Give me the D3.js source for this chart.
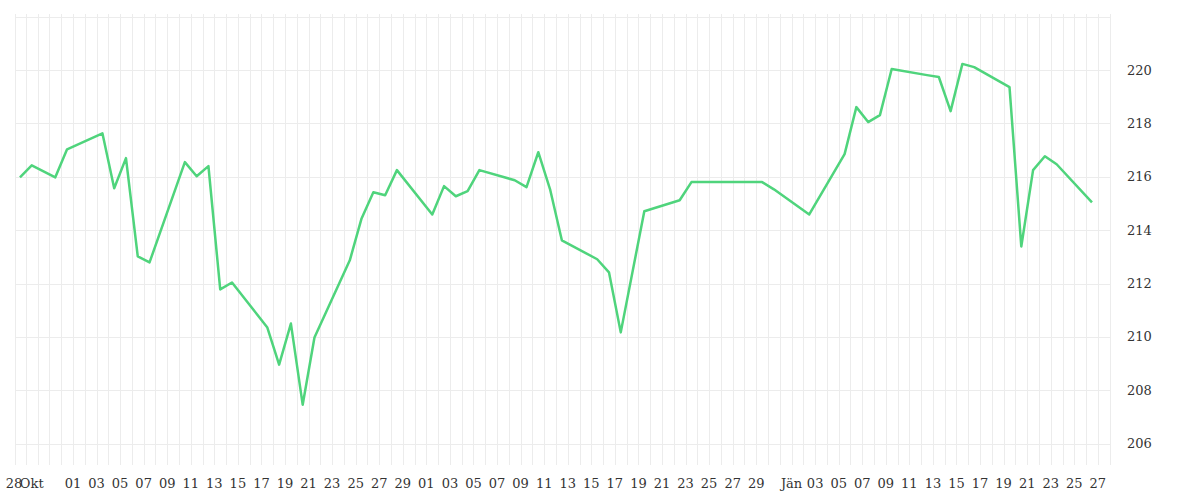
<!DOCTYPE html>
<html><head><meta charset="utf-8">
<script src="https://cdn.jsdelivr.net/npm/d3@7"></script>
<style>
  body { margin: 0; background: #fff; }
  text { font-family: "DejaVu Serif", "Liberation Serif", serif; }
</style></head>
<body><div id="chart"></div>
<script>
// Price line, Oct 28 2019 – Jan 27 2020 (trading days)
const dates = [
  '2019-10-28','2019-10-29','2019-10-31','2019-11-01','2019-11-04','2019-11-05','2019-11-06','2019-11-07','2019-11-08',
  '2019-11-11','2019-11-12','2019-11-13','2019-11-14','2019-11-15','2019-11-18','2019-11-19','2019-11-20','2019-11-21','2019-11-22',
  '2019-11-25','2019-11-26','2019-11-27','2019-11-28','2019-11-29','2019-12-02','2019-12-03','2019-12-04','2019-12-05','2019-12-06',
  '2019-12-09','2019-12-10','2019-12-11','2019-12-12','2019-12-13','2019-12-16','2019-12-17','2019-12-18','2019-12-20',
  '2019-12-23','2019-12-24','2019-12-30','2019-12-31','2020-01-03','2020-01-06','2020-01-07','2020-01-08','2020-01-09','2020-01-10',
  '2020-01-13','2020-01-14','2020-01-15','2020-01-16','2020-01-17','2020-01-20','2020-01-21','2020-01-22','2020-01-23','2020-01-24','2020-01-27'
];
const prices = [
  215.98,216.43,215.98,217.03,217.63,215.57,216.70,213.02,212.79,
  216.55,216.02,216.40,211.78,212.04,210.35,208.96,210.50,207.46,209.98,
  212.87,214.44,215.42,215.31,216.25,214.59,215.65,215.27,215.46,216.25,
  215.87,215.61,216.92,215.53,213.62,212.91,212.42,210.17,214.71,
  215.12,215.80,215.80,215.53,214.59,216.85,218.61,218.05,218.31,220.04,
  219.81,219.74,218.46,220.23,220.11,219.36,213.39,216.25,216.77,216.47,215.04
];
const yTicks = [206, 208, 210, 212, 214, 216, 218, 220];
const xLabels = ['28','Okt','01','03','05','07','09','11','13','15','17','19','21','23','25','27','29',
  '01','03','05','07','09','11','13','15','17','19','21','23','25','27','29','Jän','03','05','07','09','11','13','15','17','19','21','23','25','27'];

const W = 1200, H = 500;
const mLeft = 15, mRight = 1110, mTop = 14, mBottom = 465;
const parse = d3.timeParse('%Y-%m-%d');
const day = 864e5;
const t0 = parse('2019-10-28'), t1 = parse('2020-01-27');

const x = d3.scaleTime()
  .domain([new Date(+t0 - 0.42 * day), new Date(+t1 + 1.53 * day)])
  .range([mLeft, mRight]);
const y = d3.scaleLinear().domain([205.2, 222.1]).range([mBottom, mTop]);

// tick dates: Oct 28 label, "Okt", then every other day, month starts named
const tickDates = [new Date(+t0 - 0.5 * day), new Date(+t0 + day)];
['2019-11-', '2019-12-'].forEach(m => {
  for (let d = 1; d <= 29; d += 2) tickDates.push(new Date(+parse(m + String(d).padStart(2, '0')) + 0.5 * day));
});
tickDates.push(new Date(+parse('2020-01-01') + 0.5 * day));
for (let d = 3; d <= 27; d += 2) tickDates.push(new Date(+parse('2020-01-' + String(d).padStart(2, '0')) + 0.5 * day));

const svg = d3.select('#chart').append('svg').attr('width', W).attr('height', H);

// grid
const grid = svg.append('g').attr('stroke', '#ececec').attr('stroke-width', 1);
d3.timeDay.range(x.domain()[0], x.domain()[1]).forEach(d => {
  const gx = Math.round(x(new Date(+d + 0.5 * day))) + 0.5;
  grid.append('line').attr('x1', gx).attr('x2', gx).attr('y1', mTop).attr('y2', mBottom);
});
grid.append('line').attr('x1', mLeft + 0.5).attr('x2', mLeft + 0.5).attr('y1', mTop).attr('y2', mBottom);
grid.append('line').attr('x1', mRight + 0.5).attr('x2', mRight + 0.5).attr('y1', mTop).attr('y2', mBottom);
[...yTicks, 222].forEach(v => {
  const gy = Math.round(y(v)) + 0.5;
  grid.append('line').attr('x1', mLeft).attr('x2', mRight).attr('y1', gy).attr('y2', gy);
});

// y labels
svg.append('g').selectAll('text').data(yTicks).join('text')
  .attr('x', 1127).attr('y', d => y(d)).attr('dy', '0.35em')
  .attr('font-size', 13).attr('fill', '#333').text(d => d);

// x labels
svg.append('g').selectAll('text').data(tickDates).join('text')
  .attr('x', d => x(d)).attr('y', 488).attr('text-anchor', 'middle')
  .attr('font-size', 13).attr('fill', '#333').text((d, i) => xLabels[i]);

// line
const pts = dates.map((d, i) => ({ date: parse(d), value: prices[i] }));
svg.append('path').datum(pts)
  .attr('fill', 'none').attr('stroke', '#4fd47c').attr('stroke-width', 2.5)
  .attr('stroke-linejoin', 'round')
  .attr('d', d3.line().x(d => x(d.date)).y(d => y(d.value)));
</script></body></html>
